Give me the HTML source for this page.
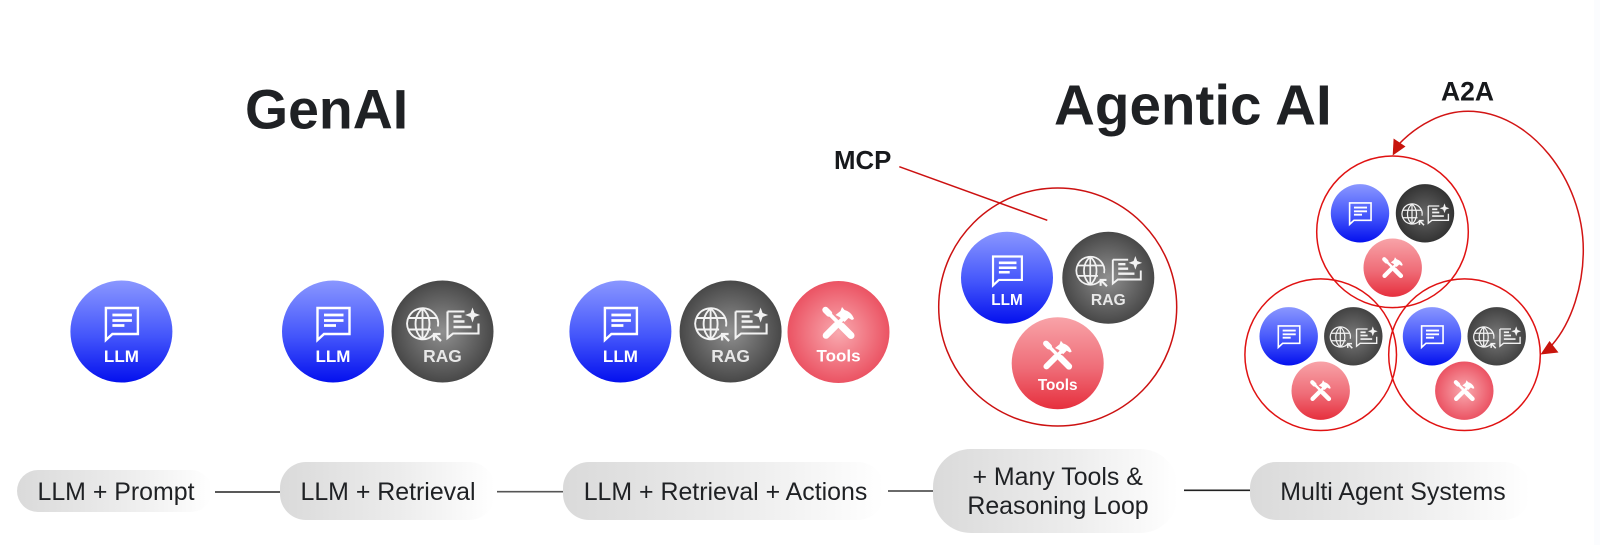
<!DOCTYPE html>
<html>
<head>
<meta charset="utf-8">
<style>
html,body{margin:0;padding:0;background:#fff;}
svg{display:block;}
text{font-family:"Liberation Sans",Arial,sans-serif;}
.h{font-weight:700;fill:#1f2124;}
.p{font-size:24.9px;fill:#1f2124;text-anchor:middle;}
.n{font-size:17px;font-weight:700;fill:#fff;text-anchor:middle;}
.c{fill:none;stroke:#e01212;stroke-width:1.5;}
</style>
</head>
<body>
<svg width="1600" height="545" viewBox="0 0 1600 545" xmlns="http://www.w3.org/2000/svg">
<defs>
<linearGradient id="gB" x1="0" y1="0" x2="0" y2="1"><stop offset="0" stop-color="#8a97ff"/><stop offset=".55" stop-color="#4355fb"/><stop offset="1" stop-color="#0410ee"/></linearGradient>
<radialGradient id="gG"><stop offset="0" stop-color="#909090"/><stop offset="1" stop-color="#484848"/></radialGradient>
<radialGradient id="gD"><stop offset="0" stop-color="#666"/><stop offset="1" stop-color="#333"/></radialGradient>
<radialGradient id="gM"><stop offset="0" stop-color="#7a7a7a"/><stop offset="1" stop-color="#424242"/></radialGradient>
<radialGradient id="gR"><stop offset="0" stop-color="#f9aab0"/><stop offset="1" stop-color="#eb5363"/></radialGradient>
<linearGradient id="gL" x1="0" y1="0" x2="0" y2="1"><stop offset="0" stop-color="#f8a3a8"/><stop offset=".55" stop-color="#ef6d78"/><stop offset="1" stop-color="#e62f3d"/></linearGradient>
<linearGradient id="gP"><stop offset="0" stop-color="#dadada"/><stop offset=".55" stop-color="#ececec"/><stop offset="1" stop-color="#ffffff"/></linearGradient>

<g id="chat">
<path d="M-15.5-15.5H16.5V10.5H-9L-15.5 16.5Z" fill="none" stroke="#fff" stroke-width="2.4"/>
<path d="M-9-8.5H10.5M-9-3H10.5M-9 2H3" stroke="#fff" stroke-width="2.8" fill="none"/>
</g>

<g id="rag">
<g fill="none" stroke="#f2f2f2" stroke-width="1.9">
<path d="M-9 3.3A15.5 15.5 0 1 1-4.6-5"/>
<path d="M-20-23.2C-29.3-15-29.3-0.5-20 7.8M-20-23.2C-10.7-15-10.7-0.5-20 7.8M-20-23.2V7.8"/>
<path d="M-34.2-13.5H-5.8M-34.2-2H-11.5"/>
<path d="M-1.5 9.5L-7.5 3.5M-8.5 9V2.5H-2" stroke-width="2.3"/>
<path d="M5-20V6.5L10.5 2H36V-8M5-20H22" stroke-width="2.1"/>
<path d="M11-15H19M11-10H22M11-4.5H29" stroke-width="2.6"/>
</g>
<path d="M30-24L32-18.5L37.5-16.5L32-14.5L30-9L28-14.5L22.5-16.5L28-18.5Z" fill="#f2f2f2"/>
</g>

<g id="tools">
<g fill="none" stroke="#fff" stroke-linecap="round">
<path d="M3 3L12.5 12.5" stroke-width="7"/>
<path d="M-11-11L4 4" stroke-width="3.8"/>
<path d="M-13-13L-9.5-9.5" stroke-width="6.4"/>
<path d="M-12.5 12.5L-2 2" stroke-width="6.6"/>
<path d="M-3 3L7-7" stroke-width="4"/>
</g>
<path d="M-3-8L2-12L3.5-16L6-13C10-12 14-9 15.5-4L13.5-3L10-5L6-1L1-6Z" fill="#fff"/>
</g>

<g id="llm"><use href="#chat" y="-8"/><text class="n" y="30.5" x="0">LLM</text></g>
<g id="ragN"><use href="#rag"/><text class="n" y="30.5" x="0" style="font-size:17.4px;fill:#e8e8e8">RAG</text></g>
<g id="toolsN"><use href="#tools" y="-9"/><text class="n" y="29.5" x="0">Tools</text></g>
</defs>

<rect width="1600" height="545" fill="#fff"/>
<rect x="1594" width="6" height="545" fill="#fbfcfe"/>

<text class="h" x="245" y="128.5" font-size="55.4">GenAI</text>
<text class="h" x="1054" y="124.5" font-size="56.6">Agentic AI</text>
<text class="h" x="834" y="169" font-size="25.8" style="fill:#17191c">MCP</text>
<text class="h" x="1441" y="100.5" font-size="26.5" style="fill:#17191c">A2A</text>

<!-- row nodes -->
<g transform="translate(121.4 331.5)"><circle r="51" fill="url(#gB)"/><use href="#llm"/></g>
<g transform="translate(333 331.5)"><circle r="51" fill="url(#gB)"/><use href="#llm"/></g>
<g transform="translate(442.5 331.5)"><circle r="51" fill="url(#gG)"/><use href="#ragN"/></g>
<g transform="translate(620.4 331.5)"><circle r="51" fill="url(#gB)"/><use href="#llm"/></g>
<g transform="translate(730.6 331.5)"><circle r="51" fill="url(#gG)"/><use href="#ragN"/></g>
<g transform="translate(838.5 332)"><circle r="51" fill="url(#gR)"/><use href="#toolsN"/></g>

<!-- MCP -->
<circle class="c" cx="1057.7" cy="307" r="119" style="stroke:#cc1111"/>
<path d="M899.3 166.7L1047.3 220.3" class="c" style="stroke:#cc1111"/>
<g transform="translate(1007 277.7) scale(.902)"><circle r="51" fill="url(#gB)"/><use href="#llm"/></g>
<g transform="translate(1108.3 277.7) scale(.902)"><circle r="51" fill="url(#gG)"/><use href="#ragN"/></g>
<g transform="translate(1057.7 363.3) scale(.902)"><circle r="51" fill="url(#gL)"/><use href="#toolsN"/></g>

<!-- A2A top -->
<g transform="translate(1360 213.3)"><circle r="29.2" fill="url(#gB)"/><use href="#chat" transform="scale(.67)"/></g>
<g transform="translate(1425 213.3)"><circle r="29.2" fill="url(#gD)"/><use href="#rag" transform="translate(0 5.7) scale(.65)"/></g>
<g transform="translate(1392.7 267.7)"><circle r="29.2" fill="url(#gL)"/><use href="#tools" transform="scale(.65)"/></g>
<!-- A2A left -->
<g transform="translate(1288.7 336.3)"><circle r="29.2" fill="url(#gB)"/><use href="#chat" transform="scale(.67)"/></g>
<g transform="translate(1353.3 336.3)"><circle r="29.2" fill="url(#gM)"/><use href="#rag" transform="translate(0 5.7) scale(.65)"/></g>
<g transform="translate(1320.7 390.7)"><circle r="29.2" fill="url(#gL)"/><use href="#tools" transform="scale(.65)"/></g>
<!-- A2A right -->
<g transform="translate(1432 336.3)"><circle r="29.2" fill="url(#gB)"/><use href="#chat" transform="scale(.67)"/></g>
<g transform="translate(1496.7 336.3)"><circle r="29.2" fill="url(#gM)"/><use href="#rag" transform="translate(0 5.7) scale(.65)"/></g>
<g transform="translate(1464.3 390.7)"><circle r="29.2" fill="url(#gR)"/><use href="#tools" transform="scale(.65)"/></g>

<circle class="c" cx="1392.5" cy="231.8" r="75.8"/>
<circle class="c" cx="1320.7" cy="354.7" r="75.8"/>
<circle class="c" cx="1464.5" cy="354.7" r="75.8"/>

<!-- A2A arc -->
<path d="M1398 145C1418 124 1443 111.3 1468 111.3C1530 111.3 1583.3 180 1583.3 250C1583.3 285 1572 322 1552 345" fill="none" stroke="#d21414" stroke-width="1.5"/>
<path d="M1392.7 155.5L1393.6 138.5L1405.5 146.5Z" fill="#c8140c"/>
<path d="M1540.5 354.5L1549.5 341L1558.5 352.5Z" fill="#c8140c"/>

<!-- connectors -->
<path d="M215 492H280" stroke="#222" stroke-width="1.6"/>
<path d="M497 491.7H563" stroke="#555" stroke-width="1.6"/>
<path d="M888 491H933" stroke="#555" stroke-width="1.8"/>
<path d="M1184 490.3H1250" stroke="#222" stroke-width="1.6"/>

<!-- pills -->
<rect x="17" y="470" width="195" height="42" rx="21" fill="url(#gP)"/>
<rect x="280" y="462" width="215" height="58" rx="26" fill="url(#gP)"/>
<rect x="563" y="462" width="321" height="58" rx="26" fill="url(#gP)"/>
<rect x="933" y="449" width="245" height="84" rx="38" fill="url(#gP)"/>
<rect x="1250" y="462" width="280" height="58" rx="26" fill="url(#gP)"/>

<text class="p" x="116" y="500">LLM + Prompt</text>
<text class="p" x="388" y="500">LLM + Retrieval</text>
<text class="p" x="725.5" y="500">LLM + Retrieval + Actions</text>
<text class="p" x="1057.7" y="485">+ Many Tools &amp;</text>
<text class="p" x="1058" y="514">Reasoning Loop</text>
<text class="p" x="1393" y="500">Multi Agent Systems</text>
</svg>
</body>
</html>
